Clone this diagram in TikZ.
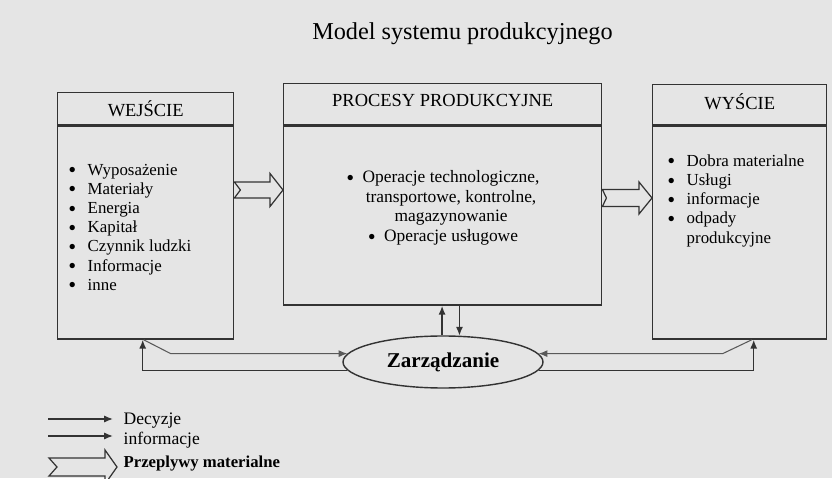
\documentclass[tikz,border=0pt]{standalone}
\usepackage{fontspec}
\setmainfont{Liberation Serif}
\usetikzlibrary{arrows.meta,positioning,shapes.geometric,calc}
\newcommand{\pkt}{\raisebox{0.9pt}{\fontsize{7}{7}\selectfont ●}}

\begin{document}
\begin{tikzpicture}[line width=0.8pt, >={Latex[length=5pt,width=4pt]},
  hdr/.style={draw=black!80, anchor=north west, inner sep=0pt, font=\fontsize{10.5}{12}\selectfont},
  body/.style={draw=black!80, inner sep=0pt},
  list/.style={inner sep=0pt, anchor=west, font=\fontsize{9.6}{10.9}\selectfont},
  dec/.style={draw=black!80, line width=0.8pt},
  inf/.style={draw=black!65, line width=0.6pt},
  flow/.style={draw=black!80, line width=0.7pt},
  legtext/.style={inner sep=0pt, anchor=west, font=\fontsize{10}{12}\selectfont}]
% page and background
\fill[black!10] (0,0) rectangle (16.64,9.56);
\useasboundingbox (0,0) rectangle (16.64,9.56);

\node[font=\fontsize{13.8}{16}\selectfont] (title) at (9.25,8.89) {Model systemu produkcyjnego};

% Wejscie
\node[hdr, minimum width=3.52cm, minimum height=0.64cm] (wejH) at (1.14,7.72) {WEJŚCIE};
\node[body, minimum width=3.52cm, minimum height=4.26cm, below=0pt of wejH] (wej) {};
\node[list] (wejL) at (1.36,4.98) {\begin{tabular}{@{}l@{\hspace{6.6pt}}l@{}}
  \pkt & Wyposażenie\\
  \pkt & Materiały\\
  \pkt & Energia\\
  \pkt & Kapitał\\
  \pkt & Czynnik ludzki\\
  \pkt & Informacje\\
  \pkt & inne
\end{tabular}};

% Procesy
\node[hdr, minimum width=6.36cm, minimum height=0.82cm, text depth=4pt] (proH) at (5.66,7.90) {PROCESY PRODUKCYJNE};
\node[body, minimum width=6.36cm, minimum height=3.58cm, below=0pt of proH] (pro) {};
\node[align=center, inner sep=0pt, font=\fontsize{9.9}{11.2}\selectfont] (proL) at (8.86,5.40)
  {\pkt\ \ Operacje technologiczne,\\
   \phantom{\pkt\ \ }transportowe, kontrolne,\\
   \phantom{\pkt\ \ }magazynowanie\\
   \pkt\ \ Operacje usługowe};

% Wyjscie
\node[hdr, minimum width=3.48cm, minimum height=0.80cm, text depth=4pt] (wyjH) at (13.04,7.88) {WYŚCIE};
\node[body, minimum width=3.48cm, minimum height=4.26cm, below=0pt of wyjH] (wyj) {};
\node[list] (wyjL) at (13.34,5.54) {\begin{tabular}{@{}l@{\hspace{6.6pt}}l@{}}
  \pkt & Dobra materialne\\
  \pkt & Usługi\\
  \pkt & informacje\\
  \pkt & odpady\\
       & produkcyjne
\end{tabular}};

% material flows
\draw[flow] let \p1=(wej.east), \p2=(pro.west) in
  (\x1,5.92cm) -- ({\x2-0.26cm},5.92cm) -- ({\x2-0.26cm},6.09cm) -- (\x2,5.76cm)
  -- ({\x2-0.26cm},5.43cm) -- ({\x2-0.26cm},5.60cm) -- (\x1,5.60cm) -- ({\x1+0.12cm},5.76cm) -- cycle;
\draw[flow] let \p1=(pro.east), \p2=(wyj.west) in
  (\x1,5.77cm) -- ({\x2-0.26cm},5.77cm) -- ({\x2-0.26cm},5.92cm) -- (\x2,5.60cm)
  -- ({\x2-0.26cm},5.28cm) -- ({\x2-0.26cm},5.43cm) -- (\x1,5.43cm) -- ({\x1+0.08cm},5.60cm) -- cycle;

% Zarzadzanie
\node[draw=black!80, ellipse, minimum width=4cm, minimum height=1.04cm, inner sep=1pt,
  font=\fontsize{12}{14}\selectfont\bfseries] (ell) at (8.86,2.32) {Zarządzanie};
\draw[dec,->] (ell.92) -- (ell.92 |- pro.south);
\draw[dec,->] (pro.south -| ell.58) -- (ell.58);

\coordinate (kL) at ($(wej.south)+(0.50,0)$);
\coordinate (kR) at ($(wyj.south)+(-0.34,0)$);
\draw[dec,->] (ell.185) -| ([xshift=-0.06cm]wej.south);
\draw[inf,->] ([xshift=-0.04cm]wej.south) -- (kL |- ell.175) -- (ell.175);
\draw[dec,->] (ell.355) -| ([xshift=0.28cm]wyj.south);
\draw[inf,->] ([xshift=0.24cm]wyj.south) -- (kR |- ell.5) -- (ell.5);

% legend
\coordinate (d1) at (0.96,1.18);
\coordinate (d2) at (2.26,1.18);
\coordinate (i1) at (0.96,0.84);
\coordinate (i2) at (2.26,0.84);
\draw[dec,->] (d1) -- (d2);
\draw[dec,->] (i1) -- (i2);
\node[legtext] (decT) at (2.46,1.14) {Decyzje};
\node[legtext] (infT) at (2.46,0.76) {informacje};
\coordinate (m1) at (0.98,0.22);
\coordinate (m2) at (2.34,0.22);
\draw[flow] let \p1=(m1), \p2=(m2) in
  (\x1,0.40cm) -- ({\x2-0.24cm},0.40cm) -- ({\x2-0.24cm},0.56cm) -- (\x2,0.22cm)
  -- ({\x2-0.24cm},-0.12cm) -- ({\x2-0.24cm},0.04cm) -- (\x1,0.04cm) -- ({\x1+0.16cm},0.22cm) -- cycle;
\node[legtext, font=\fontsize{9.5}{12}\selectfont\bfseries] (matT) at (2.46,0.28) {Przeplywy materialne};
\end{tikzpicture}
\end{document}
